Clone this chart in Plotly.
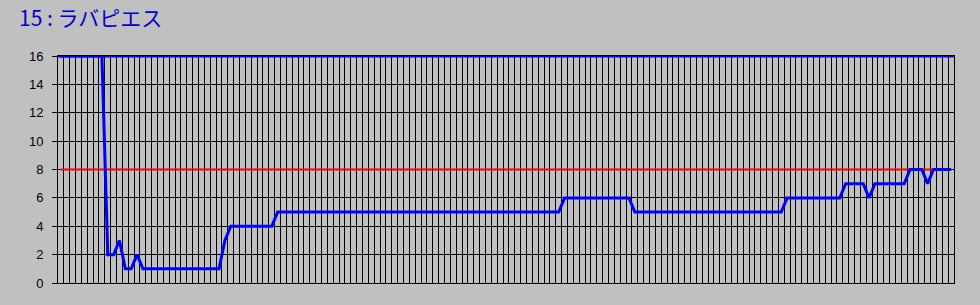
import plotly.graph_objects as go

title_text = "15 : ラバピエス"

# rank per step, one value per category column
ranks = [
    16, 16, 16, 16, 16, 16, 16, 16,
    2, 2, 3, 1, 1, 2,
    1, 1, 1, 1, 1, 1, 1, 1, 1, 1, 1, 1, 1, 1,
    3,
    4, 4, 4, 4, 4, 4, 4, 4,
    5, 5, 5, 5, 5, 5, 5, 5, 5, 5, 5, 5, 5, 5, 5, 5, 5, 5, 5, 5, 5, 5, 5, 5, 5,
    5, 5, 5, 5, 5, 5, 5, 5, 5, 5, 5, 5, 5, 5, 5, 5, 5, 5, 5, 5, 5, 5, 5, 5,
    6, 6, 6, 6, 6, 6, 6, 6, 6, 6, 6, 6,
    5, 5, 5, 5, 5, 5, 5, 5, 5, 5, 5, 5, 5, 5, 5, 5, 5, 5, 5, 5, 5, 5, 5, 5, 5, 5,
    6, 6, 6, 6, 6, 6, 6, 6, 6, 6,
    7, 7, 7, 7,
    6,
    7, 7, 7, 7, 7, 7,
    8, 8, 8,
    7,
    8, 8, 8, 8,
]
steps = list(range(len(ranks)))

max_rank = 16
mid_rank = 8
y_ticks = [0, 2, 4, 6, 8, 10, 12, 14, 16]

BG = "#C0C0C0"
BLUE = "#0000FF"
RED = "#FF0000"

fig = go.Figure()

# mid reference line
fig.add_trace(go.Scatter(
    x=steps, y=[mid_rank] * len(steps), mode="lines",
    line=dict(color=RED, width=2), hoverinfo="skip", cliponaxis=False,
))

# rank series
fig.add_trace(go.Scatter(
    x=steps, y=ranks, mode="lines",
    line=dict(color=BLUE, width=3), cliponaxis=False,
))

# top (max rank) line across the plot
fig.add_shape(type="line", xref="paper", yref="y", x0=0, x1=1,
              y0=max_rank, y1=max_rank, line=dict(color=BLUE, width=3),
              layer="above")

fig.add_annotation(
    text=title_text, xref="paper", yref="paper",
    x=-41 / 896, xanchor="left", y=1 + 39 / 227, yanchor="middle",
    showarrow=False,
    font=dict(family="Noto Sans CJK JP", size=21, color="#0000CC"),
)

fig.update_layout(
    width=980, height=305,
    margin=dict(l=58, r=26, t=56, b=22),
    paper_bgcolor=BG, plot_bgcolor=BG,
    showlegend=False,
)

fig.update_xaxes(
    range=[-0.5, len(ranks) - 0.5],
    tick0=-0.5, dtick=1, showticklabels=False, ticks="",
    showgrid=True, gridcolor="black", gridwidth=1,
    showline=True, linecolor="black", linewidth=1, mirror=True,
    zeroline=False, fixedrange=True,
)
fig.update_yaxes(
    range=[0, max_rank],
    tickvals=y_ticks, ticktext=[str(v) for v in y_ticks],
    ticks="outside", ticklen=5, tickcolor="black", tickwidth=1,
    ticklabelstandoff=6,
    tickfont=dict(family="Liberation Sans", size=13, color="black"),
    showgrid=True, gridcolor="black", gridwidth=1,
    showline=True, linecolor="black", linewidth=1, mirror=True,
    zeroline=False, fixedrange=True,
)

fig.write_html("out.html")
